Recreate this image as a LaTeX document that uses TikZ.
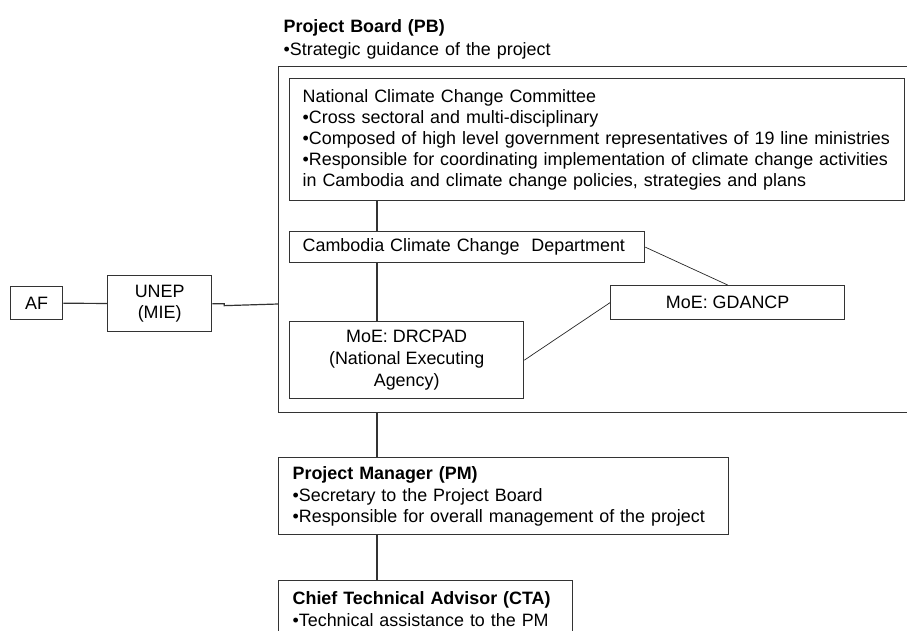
\documentclass[tikz,border=0pt]{standalone}
\usepackage{fontspec}
\setmainfont{Liberation Sans}
\usetikzlibrary{positioning}

\begin{document}
\begin{tikzpicture}[
        x=1pt, y=-1pt,
        unit/.style={
                rectangle,
                draw=black!80,
                line width=1.3pt,
                anchor=north west,
                inner sep=0pt,
                align=center,
                font=\fontsize{17.9}{21}\selectfont
            },
        listunit/.style={unit, align=left, inner xsep=13pt},
        link/.style={draw=black!80, line width=1.2pt},
        side link/.style={draw=black!85, line width=0.7pt}
    ]
    \clip (0,0) rectangle (907,630);

    \node[unit, minimum width=52pt, minimum height=33pt] (af) at (10,286) {AF};
    \node[unit, minimum width=104pt, minimum height=56pt] (unep) at (107,275) {UNEP\\(MIE)};

    \node[unit, minimum width=650pt, minimum height=346pt] (pb) at (278,66) {};
    \node[listunit, draw=none, inner xsep=0pt, text width=400pt, anchor=south west,
        above right=6pt and 5pt of pb.north west] (pbtitle)
        {\textbf{Project Board (PB)}\\[2pt]•Strategic guidance of the project};

    \node[listunit, text width=589pt, minimum height=122pt] (nccc) at (289,78)
        {National Climate Change Committee\\
         •Cross sectoral and multi-disciplinary\\
         •Composed of high level government representatives of 19 line ministries\\
         •Responsible for coordinating implementation of climate change activities\\
         in Cambodia and climate change policies, strategies and plans};
    \node[listunit, text width=329pt, minimum height=31pt] (cccd) at (289,231)
        {Cambodia Climate Change~ Department};
    \node[unit, minimum width=234pt, minimum height=77pt] (drcpad) at (289,321)
        {MoE: DRCPAD\\[1pt](National Executing\\[1pt]Agency)};
    \node[unit, minimum width=234pt, minimum height=34pt] (gdancp) at (610,285) {MoE: GDANCP};

    \node[listunit, inner xsep=14pt, text width=422pt, minimum height=77pt] (pm) at (278,457)
        {\textbf{Project Manager (PM)}\\[1pt]
         •Secretary to the Project Board\\
         •Responsible for overall management of the project};
    \node[listunit, inner xsep=14pt, inner ysep=11pt, text width=266pt, text depth=60pt] (cta) at (278,580)
        {\textbf{Chief Technical Advisor (CTA)}\\[1pt]
         •Technical assistance to the PM};

    \coordinate (spine) at (377,0);
    \coordinate (pbin) at (278,304);

    \draw[link] (af) -- (unep);
    \draw[link] (unep.east) -- ++(12,0) -- ++(0,2) -- (pbin);
    \draw[link] (nccc.south -| spine) -- (cccd.north -| spine);
    \draw[link] (cccd.south -| spine) -- (drcpad.north -| spine);
    \draw[link] (pb.south -| spine) -- (pm.north -| spine);
    \draw[link] (pm.south -| spine) -- (cta.north -| spine);
    \draw[side link] (cccd.east) -- (gdancp.north);
    \draw[side link] (drcpad.east) -- (gdancp.west);
\end{tikzpicture}
\end{document}
